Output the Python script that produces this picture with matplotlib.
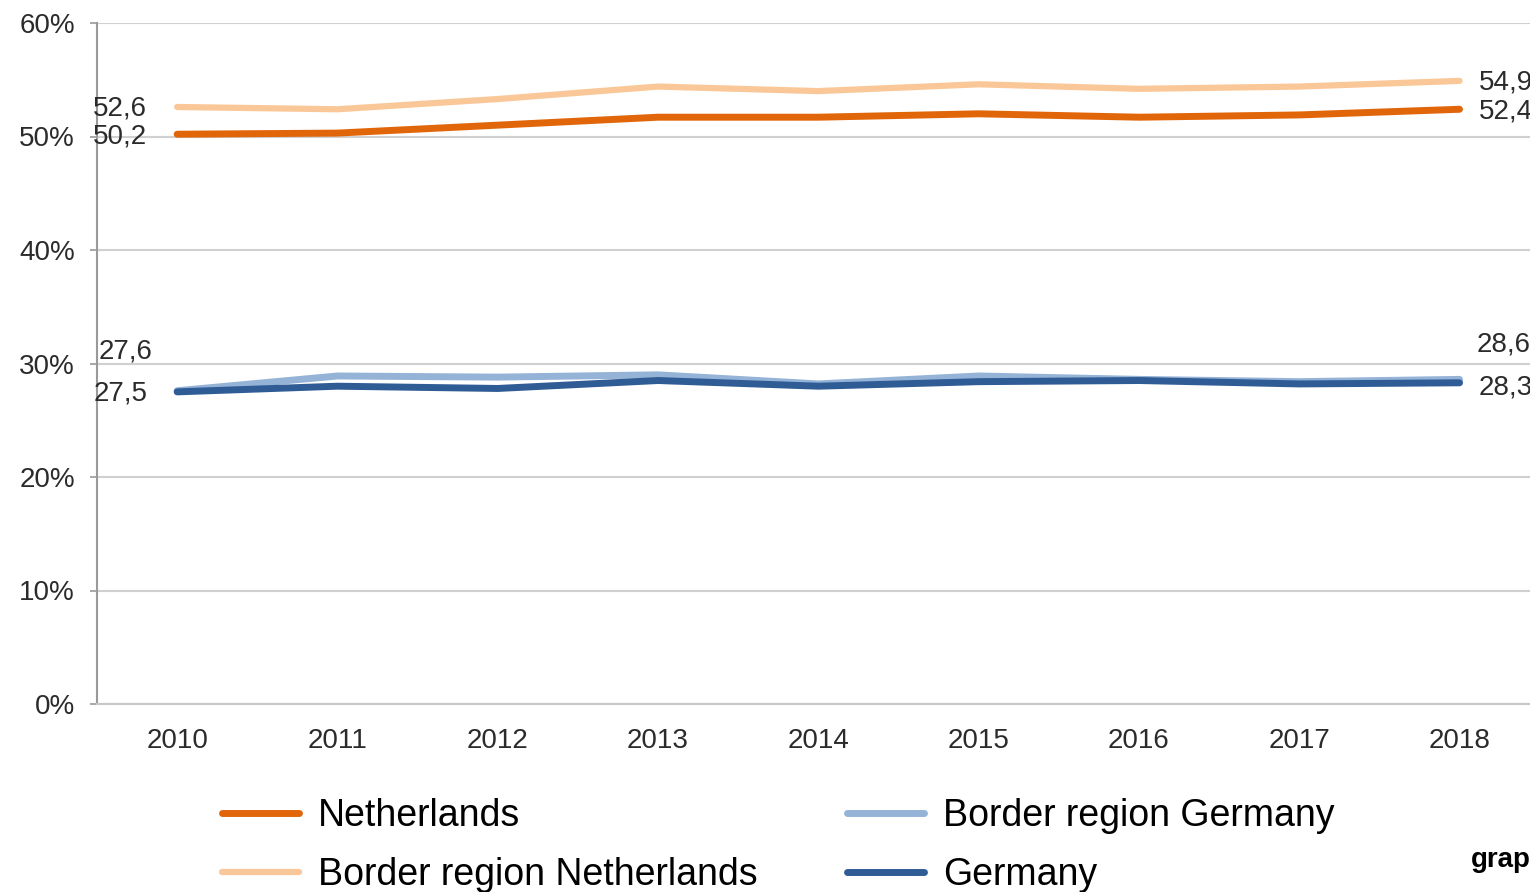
import matplotlib
matplotlib.use('agg')
import matplotlib.pyplot as plt

# data (share in %)
years = ['2010', '2011', '2012', '2013', '2014', '2015', '2016', '2017', '2018']
netherlands = [50.2, 50.3, 51.0, 51.7, 51.7, 52.0, 51.7, 51.9, 52.4]
border_nl = [52.6, 52.4, 53.3, 54.4, 54.0, 54.6, 54.2, 54.4, 54.9]
border_de = [27.6, 28.9, 28.8, 29.0, 28.2, 28.9, 28.6, 28.4, 28.6]
germany = [27.5, 28.0, 27.8, 28.5, 28.0, 28.4, 28.5, 28.2, 28.3]
y_ticks = [0, 10, 20, 30, 40, 50, 60]

plt.rcParams['font.family'] = ['Liberation Sans', 'DejaVu Sans']

fig = plt.figure(figsize=(15.3, 8.92), dpi=100)
ax = fig.add_axes([97 / 1530, 188 / 892, 1603 / 1530, 681 / 892])

x = list(range(len(years)))
series = [
    ('Netherlands', netherlands, '#E1660A', 5.0),
    ('Border region Netherlands', border_nl, '#FAC898', 4.5),
    ('Border region Germany', border_de, '#95B3D7', 5.0),
    ('Germany', germany, '#2F5C95', 5.0),
]
lines = {}
for name, vals, col, lw in series:
    ln, = ax.plot(x, vals, color=col, lw=lw, solid_capstyle='round', label=name)
    lines[name] = ln
# dark blue drawn over the light blue line
lines['Germany'].set_zorder(3)

ax.set_xlim(-0.5, 9.5)
ax.set_ylim(0, 60)
ax.set_yticks(y_ticks)
ax.set_yticklabels([f'{v}%' for v in y_ticks])
ax.set_xticks(x)
ax.set_xticklabels(years)
ax.grid(axis='y', color='#d0d0d0', lw=1.5)
ax.set_axisbelow(True)
for s in ['top', 'right']:
    ax.spines[s].set_visible(False)
ax.spines['left'].set_color('#9a9a9a')
ax.spines['bottom'].set_color('#c8c8c8')
ax.spines['left'].set_linewidth(1.5)
ax.spines['bottom'].set_linewidth(1.5)
ax.tick_params(axis='y', length=5, width=1.2, color='#9a9a9a', pad=11,
               labelsize=20, labelcolor='#2b2b2b')
ax.tick_params(axis='x', length=0, pad=17, labelsize=20, labelcolor='#2b2b2b')

# value labels at both ends
lab_kw = dict(textcoords='offset pixels', fontsize=20, color='#2b2b2b',
              va='center', annotation_clip=False)
ax.annotate('52,6', (0, border_nl[0]), xytext=(-30, -2), ha='right', **lab_kw)
ax.annotate('50,2', (0, netherlands[0]), xytext=(-30, -2), ha='right', **lab_kw)
ax.annotate('27,6', (0, border_de[0]), xytext=(-25, 39), ha='right', **lab_kw)
ax.annotate('27,5', (0, germany[0]), xytext=(-30, -2), ha='right', **lab_kw)
ax.annotate('54,9', (8, border_nl[-1]), xytext=(19, -2), ha='left', **lab_kw)
ax.annotate('52,4', (8, netherlands[-1]), xytext=(19, -2), ha='left', **lab_kw)
ax.annotate('28,6', (8, border_de[-1]), xytext=(17, 35), ha='left', **lab_kw)
ax.annotate('28,3', (8, germany[-1]), xytext=(19, -5), ha='left', **lab_kw)

handles = [lines['Netherlands'], lines['Border region Netherlands'],
           lines['Border region Germany'], lines['Germany']]
fig.legend(handles=handles, labels=[h.get_label() for h in handles],
           loc='upper left', bbox_to_anchor=(222 / 1530, 1 - 798 / 892),
           ncol=2, frameon=False, fontsize=27, handlelength=2.05,
           handletextpad=0.5, columnspacing=2.4, labelspacing=0.61,
           borderpad=0, borderaxespad=0)

# source note, cut off by the right edge in the original
fig.text(1471 / 1530, 1 - 860 / 892, 'grap', fontsize=20, fontweight='bold',
         va='center', ha='left', color='black')

fig.savefig('out.png', dpi=100)
